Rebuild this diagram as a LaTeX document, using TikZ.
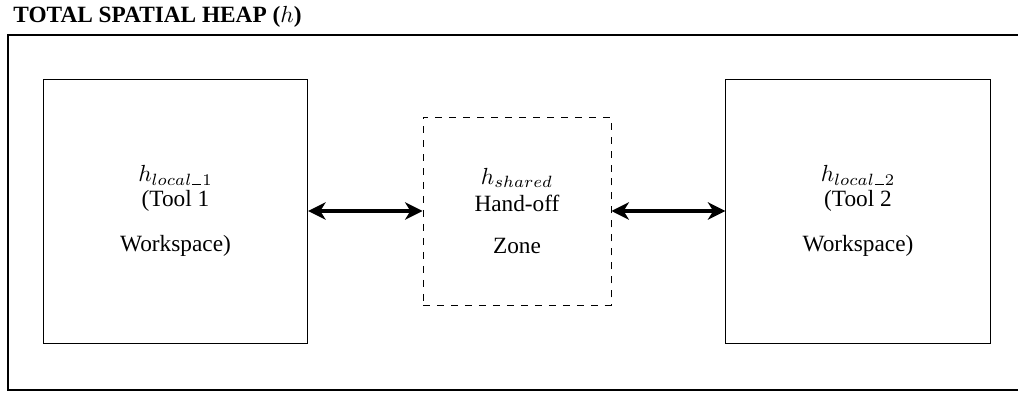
\documentclass[tikz,border=0pt]{standalone}
\usepackage{amsmath}
\usepackage{fontspec}
\setmainfont{Liberation Serif}
\usetikzlibrary{arrows.meta}
\newcommand{\usc}{\text{\kern.06em\vbox{\hrule width.55em}\kern.06em}}
\tikzset{
	space/.style={draw,align=center,inner sep=0pt,minimum width=113.5pt,minimum height=113.3pt},
	handoff/.style={<->,>={Stealth[length=7.5pt,width=7.5pt,inset=2.3pt]},line width=1.4pt}
}
\begin{document}
\begin{tikzpicture}[x=0.4292pt,y=-0.4292pt]
	\useasboundingbox (0,0) rectangle (1018,394);
	\node[anchor=base west,inner sep=0pt] (title) at (13,23) {\textbf{TOTAL SPATIAL HEAP ($h$)}};
	\node[draw,thick,anchor=north west,inner sep=0pt,minimum width=439pt,minimum height=152.4pt] (heap) at (7,34) {};
	\node[space] (local1) at (175.5,211) {$h_{local\usc 1}$\\[-1.3pt](Tool 1\\[7.3pt]Workspace)};
	\node[draw,dashed,align=center,inner sep=0pt,minimum size=80.7pt] (shared) at (517,211) {$h_{shared}$\\[-0.4pt]Hand-off\\[6pt]Zone};
	\node[space] (local2) at (858,211) {$h_{local\usc 2}$\\[-1.3pt](Tool 2\\[7.3pt]Workspace)};
	\draw[handoff] (local1) -- (shared);
	\draw[handoff] (shared) -- (local2);
\end{tikzpicture}
\end{document}
